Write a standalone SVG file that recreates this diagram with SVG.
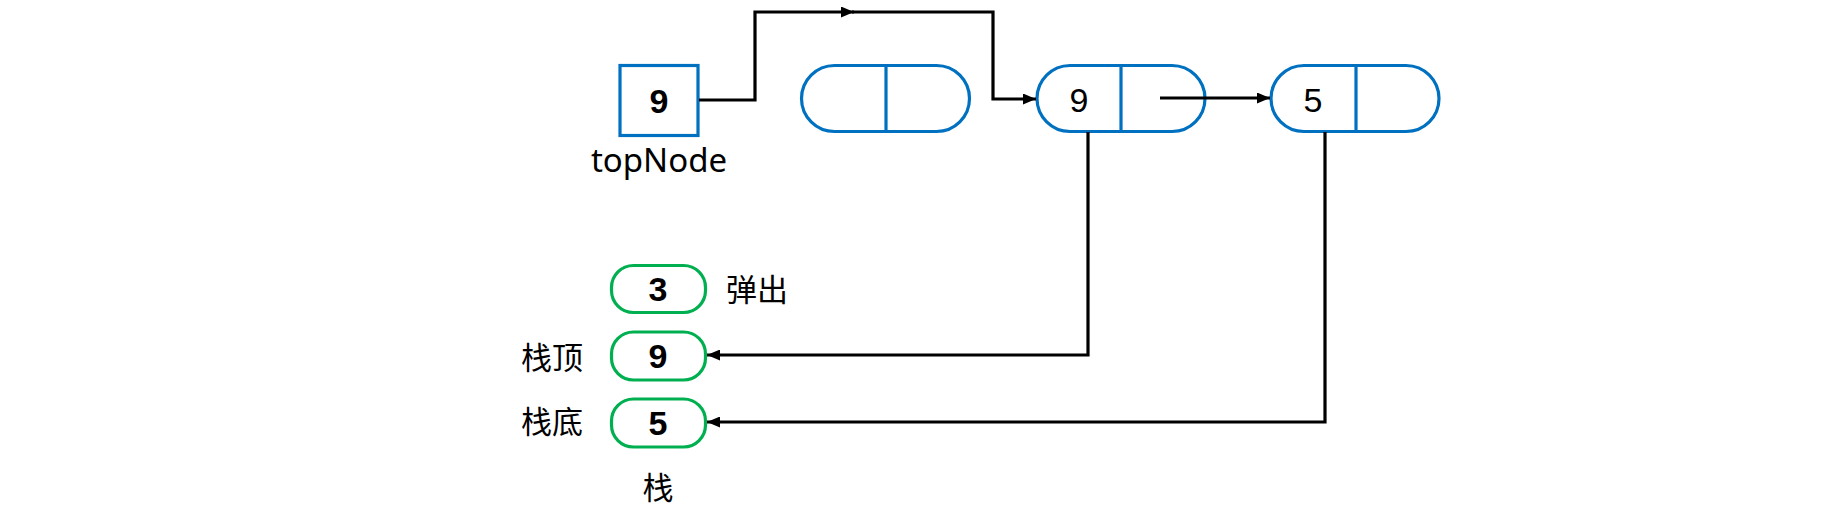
<svg xmlns="http://www.w3.org/2000/svg" width="1837" height="516" viewBox="0 0 1837 516">
<style>
.blue{fill:#fff;stroke:#0070C0;stroke-width:3.2}
.green{fill:#fff;stroke:#00B050;stroke-width:3.2}
.num{font-family:"Liberation Sans",Arial,sans-serif;font-size:34px;fill:#000;text-anchor:middle}
.b{font-weight:bold}
.lbl{font-family:"Noto Sans","Liberation Sans",sans-serif;font-size:33px;fill:#000}
.cjk{font-family:"Noto Sans CJK SC",sans-serif;font-size:31px;fill:#000}
.ln{fill:none;stroke:#000;stroke-width:3.2}
</style>
<defs>
<marker id="arr" markerUnits="userSpaceOnUse" markerWidth="13" markerHeight="11" refX="13" refY="5.5" orient="auto">
<path d="M0,0 L13,5.5 L0,11 Z" fill="#000"/>
</marker>
</defs>
<rect width="1837" height="516" fill="#fff"/>
<g id="topNode">
<rect class="blue" x="620" y="65.5" width="78" height="70"/>
<text class="num b" x="659" y="113">9</text>
<text class="lbl" x="659" y="172" text-anchor="middle">topNode</text>
</g>
<g id="emptyNode">
<rect class="blue" x="801.5" y="65.5" width="168" height="66" rx="33"/>
<line class="blue" x1="886" y1="65.5" x2="886" y2="131.5"/>
</g>
<g id="node9">
<rect class="blue" x="1037" y="65.5" width="168" height="66" rx="33"/>
<line class="blue" x1="1121" y1="65.5" x2="1121" y2="131.5"/>
<text class="num" x="1079" y="112">9</text>
</g>
<g id="node5">
<rect class="blue" x="1271" y="65.5" width="168" height="66" rx="33"/>
<line class="blue" x1="1356" y1="65.5" x2="1356" y2="131.5"/>
<text class="num" x="1313" y="112">5</text>
</g>
<g id="stack3">
<rect class="green" x="611.5" y="265.5" width="94" height="47" rx="22"/>
<text class="num b" x="658" y="301">3</text>
<text class="cjk" x="726" y="301">弹出</text>
</g>
<g id="stack9">
<rect class="green" x="611.5" y="332" width="94" height="48" rx="22"/>
<text class="num b" x="658" y="368">9</text>
<text class="cjk" x="521" y="369">栈顶</text>
</g>
<g id="stack5">
<rect class="green" x="611.5" y="399" width="94" height="48" rx="22"/>
<text class="num b" x="658" y="435">5</text>
<text class="cjk" x="521" y="433">栈底</text>
</g>
<g id="stackLabel">
<text class="cjk" x="658" y="499" text-anchor="middle">栈</text>
</g>
<g id="connectors">
<polyline class="ln" points="699,100 755,100 755,12 854,12" marker-end="url(#arr)"/>
<polyline class="ln" points="852,12 993,12 993,99 1036,99" marker-end="url(#arr)"/>
<line class="ln" x1="1160" y1="98" x2="1270" y2="98" marker-end="url(#arr)"/>
<polyline class="ln" points="1088,132 1088,355 707,355" marker-end="url(#arr)"/>
<polyline class="ln" points="1325,132 1325,422 707,422" marker-end="url(#arr)"/>
</g>
</svg>
